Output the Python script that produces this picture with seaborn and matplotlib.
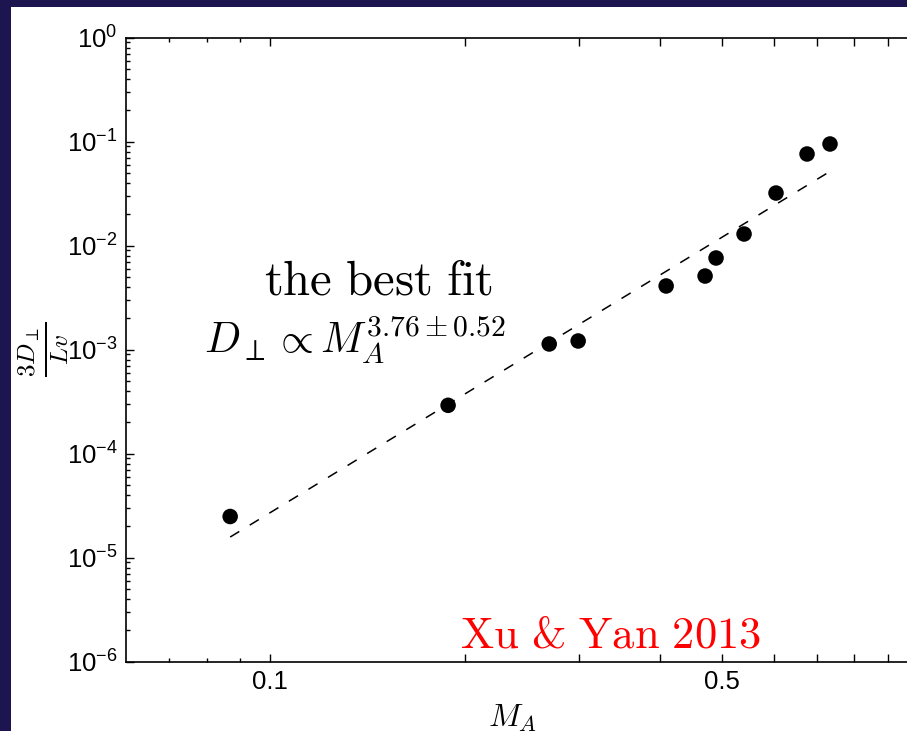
import numpy as np
import pandas as pd
import matplotlib
matplotlib.use("Agg")
import matplotlib.pyplot as plt
import matplotlib.ticker as ticker
from matplotlib.patches import Rectangle
import seaborn as sns

# points: Alfven Mach number vs normalised perpendicular diffusion
ma_values = [0.0869, 0.1886, 0.2702, 0.2995, 0.4095, 0.4703, 0.4890, 0.5402, 0.6052, 0.6758, 0.7333]
diff_values = [2.49e-5, 2.92e-4, 1.135e-3, 1.213e-3, 4.10e-3, 5.11e-3, 7.62e-3, 1.296e-2, 3.21e-2, 7.62e-2, 9.51e-2]

# ends of the dashed power-law fit
fit_ma = [0.0869, 0.7306]
fit_diff = [1.58e-5, 5.11e-2]

x_major = [0.1, 0.2, 0.3, 0.4, 0.5, 0.6, 0.7, 0.8, 0.9, 1.0]
x_minor = [0.07, 0.08, 0.09]
x_tick_labels = {0.1: "0.1", 0.5: "0.5"}
y_decades = [1e-6, 1e-5, 1e-4, 1e-3, 1e-2, 1e-1, 1e0]

sns.set_style("ticks")
plt.rcParams["font.family"] = ["Liberation Sans", "DejaVu Sans"]
plt.rcParams["mathtext.fontset"] = "custom"
plt.rcParams["mathtext.rm"] = "Liberation Sans"
plt.rcParams["mathtext.it"] = "Liberation Sans:italic"
plt.rcParams["axes.unicode_minus"] = True
for key in ["text.color", "axes.labelcolor", "xtick.color", "ytick.color"]:
    plt.rcParams[key] = "black"

navy = "#1d1550"
fig = plt.figure(figsize=(9.07, 7.31), dpi=100, facecolor=navy)
fig.add_artist(Rectangle((11 / 907, 0), 1, 1 - 7 / 731, transform=fig.transFigure,
                         facecolor="white", edgecolor="none", zorder=0))
ax = fig.add_axes([0.1389, 0.0948, 0.8724, 0.8536])
ax.set_facecolor("white")

pts = pd.DataFrame({"MA": ma_values, "D": diff_values})
fit = pd.DataFrame({"MA": fit_ma, "D": fit_diff})

sns.lineplot(data=fit, x="MA", y="D", ax=ax, color="black", lw=1.1,
             linestyle=(0, (7, 8)), zorder=2)
sns.scatterplot(data=pts, x="MA", y="D", ax=ax, color="black", s=125,
                edgecolor="none", zorder=3)

ax.set_xscale("log")
ax.set_yscale("log")
ax.set_xlim(0.06, 1.0)
ax.set_ylim(1e-6, 1e0)

ax.xaxis.set_major_locator(ticker.FixedLocator(x_major))
ax.xaxis.set_minor_locator(ticker.FixedLocator(x_minor))
ax.xaxis.set_major_formatter(ticker.FuncFormatter(
    lambda v, p: x_tick_labels.get(round(v, 2), "")))
ax.xaxis.set_minor_formatter(ticker.NullFormatter())

ax.yaxis.set_major_locator(ticker.FixedLocator(y_decades))
ax.yaxis.set_minor_locator(ticker.LogLocator(base=10, subs=np.arange(2, 10)))
ax.yaxis.set_major_formatter(ticker.FuncFormatter(
    lambda v, p: r"$\mathrm{10^{%d}}$" % int(round(np.log10(v)))))
ax.yaxis.set_minor_formatter(ticker.NullFormatter())

ax.tick_params(which="both", direction="in", top=True, right=True, width=1.0,
               labelsize=18.5, color="black", labelcolor="black")
ax.tick_params(which="major", length=6)
ax.tick_params(which="minor", length=3)
ax.tick_params(axis="x", pad=6)
ax.tick_params(axis="y", pad=6)
for s in ax.spines.values():
    s.set_linewidth(1.2)
    s.set_color("black")

ax.set_xlabel(r"$M_A$", math_fontfamily="cm", fontsize=23)
ax.xaxis.set_label_coords(0.489, -0.066)
ax.set_ylabel(r"$\frac{3D_\perp}{Lv}$", math_fontfamily="cm", fontsize=26)
ax.yaxis.set_label_coords(-0.069, 0.501)

ax.text(0.319, 0.589, r"$\mathrm{the\ best\ fit}$", transform=ax.transAxes,
        math_fontfamily="cm", fontsize=35, ha="center", va="baseline")
ax.text(0.289, 0.494, r"$D_\perp \propto M_A^{3.76\pm0.52}$", transform=ax.transAxes,
        math_fontfamily="cm", fontsize=30.5, ha="center", va="baseline")
ax.text(0.612, 0.0224, r"$\mathrm{Xu\ &\ Yan\ 2013}$", transform=ax.transAxes,
        math_fontfamily="cm", fontsize=32, ha="center", va="baseline", color="#ff0000")

fig.savefig("out.png", dpi=100, facecolor=navy)
